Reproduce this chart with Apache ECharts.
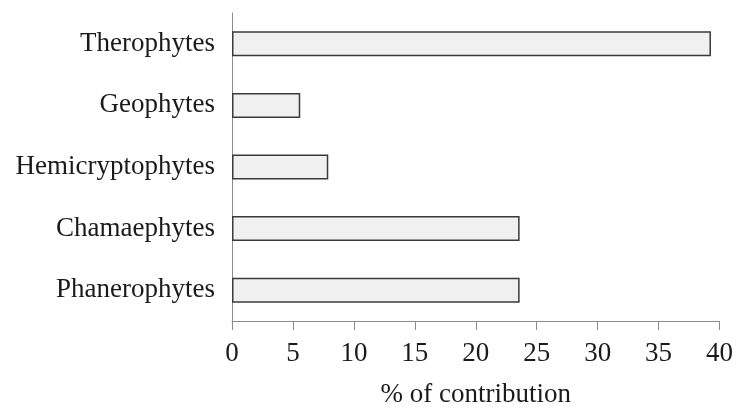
<!DOCTYPE html>
<html>
<head>
<meta charset="utf-8">
<script src="https://cdn.jsdelivr.net/npm/echarts@6/dist/echarts.min.js"></script>
<style>html,body{margin:0;padding:0;background:#fff;overflow:hidden}#c{width:736px;height:413px}</style>
</head>
<body>
<div id="c"></div>
<script>
const categories = ['Phanerophytes', 'Chamaephytes', 'Hemicryptophytes', 'Geophytes', 'Therophytes'];
const values = [23.6, 23.6, 7.9, 5.6, 39.3];
const xTicks = [0, 5, 10, 15, 20, 25, 30, 35, 40];
const xTitle = '% of contribution';

const font = '"Liberation Serif", "Times New Roman", serif';
const chart = echarts.init(document.getElementById('c'), null, {renderer: 'canvas', width: 736, height: 413});
chart.setOption({
  animation: false,
  backgroundColor: '#fff',
  grid: {left: 232, right: 15, top: 13, bottom: 83, containLabel: false},
  xAxis: {
    type: 'value',
    min: xTicks[0],
    max: xTicks[xTicks.length - 1],
    interval: 5,
    name: xTitle,
    nameLocation: 'middle',
    nameGap: 60,
    nameTextStyle: {fontFamily: font, fontSize: 27, color: '#1a1a1a'},
    axisLine: {show: true, lineStyle: {color: '#8c8c8c', width: 1}},
    axisTick: {show: true, inside: false, length: 9, lineStyle: {color: '#8c8c8c'}},
    axisLabel: {fontFamily: font, fontSize: 27, color: '#1a1a1a', margin: 19},
    splitLine: {show: false}
  },
  yAxis: {
    type: 'category',
    data: categories,
    axisLine: {show: true, lineStyle: {color: '#8c8c8c', width: 1}},
    axisTick: {show: false},
    axisLabel: {fontFamily: font, fontSize: 27, color: '#1a1a1a', margin: 17},
    splitLine: {show: false}
  },
  series: [{
    type: 'bar',
    data: values,
    barWidth: 25,
    itemStyle: {color: '#f0f0f0', borderColor: '#3a3a3a', borderWidth: 1.5},
    silent: true
  }]
});
</script>
</body>
</html>
